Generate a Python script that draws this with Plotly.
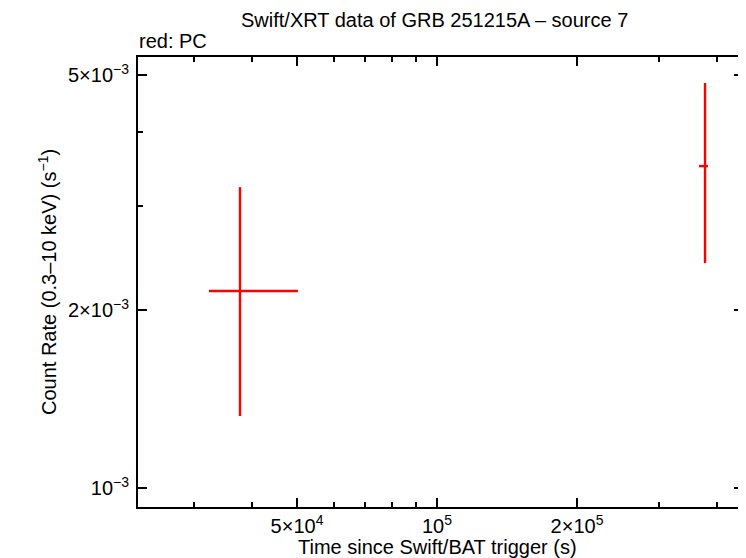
import plotly.graph_objects as go

# data (PC mode)
t = [37700, 377000]
t_lo = [32330, 365900]
t_hi = [50230, 382500]
rate = [2.155e-3, 3.505e-3]
rate_lo = [1.324e-3, 2.402e-3]
rate_hi = [3.23e-3, 4.845e-3]

x_tickvals = [5e4, 1e5, 2e5]
x_ticktext = ["5×10<sup>4</sup>", "10<sup>5</sup>", "2×10<sup>5</sup>"]
y_tickvals = [1e-3, 2e-3, 5e-3]
y_ticktext = ["10<sup>−3</sup>", "2×10<sup>−3</sup>", "5×10<sup>−3</sup>"]
x_minor = [3e4, 4e4, 6e4, 7e4, 8e4, 9e4, 3e5, 4e5]
y_minor = [3e-3, 4e-3]

fig = go.Figure()
fig.add_trace(go.Scatter(
    x=t, y=rate, mode="markers",
    marker=dict(size=0.1, color="red"),
    error_x=dict(type="data", symmetric=False,
                 array=[h - c for h, c in zip(t_hi, t)],
                 arrayminus=[c - l for l, c in zip(t_lo, t)],
                 color="red", thickness=2.4, width=0),
    error_y=dict(type="data", symmetric=False,
                 array=[h - c for h, c in zip(rate_hi, rate)],
                 arrayminus=[c - l for l, c in zip(rate_lo, rate)],
                 color="red", thickness=2.4, width=0),
    showlegend=False, hoverinfo="skip"))

font = "Liberation Sans, Arial, Helvetica, sans-serif"
axis_common = dict(type="log", showgrid=False, zeroline=False, showline=True,
                   linecolor="black", linewidth=2, mirror="allticks", automargin=False,
                   ticks="inside", ticklen=9, tickwidth=1.5, tickcolor="black",
                   tickfont=dict(family=font, size=20, color="black"))

fig.update_xaxes(**axis_common, range=[4.357, 5.658], ticklabelstandoff=0,
                 tickmode="array", tickvals=x_tickvals, ticktext=x_ticktext,
                 minor=dict(tickmode="array", tickvals=x_minor, ticks="inside",
                            ticklen=5, tickwidth=1.5, tickcolor="black"))
fig.update_yaxes(**axis_common, range=[-3.032, -2.2707], ticklabelstandoff=3,
                 tickmode="array", tickvals=y_tickvals, ticktext=y_ticktext,
                 minor=dict(tickmode="array", tickvals=y_minor, ticks="inside",
                            ticklen=5, tickwidth=1.5, tickcolor="black"))

# page offset (body margin 8px) compensated: figure coords = page coords - 8
L, T, W, H = 130, 49, 605, 450
tf = dict(family=font, size=20, color="black")
fig.update_layout(
    width=738, height=550,
    margin=dict(l=L, r=738 - L - W, t=T, b=550 - T - H),
    paper_bgcolor="white", plot_bgcolor="white",
    annotations=[
        dict(text="Swift/XRT data of GRB 251215A – source 7", xref="paper", yref="paper",
             x=(434 - 138) / W, y=1 + (57 - 20) / H, xanchor="center",
             yanchor="middle", showarrow=False, font=tf),
        dict(text="red: PC", xref="paper", yref="paper", x=-1 / W, y=1 + (57 - 41) / H,
             xanchor="left", yanchor="middle", showarrow=False, font=tf),
        dict(text="Time since Swift/BAT trigger (s)", xref="paper", yref="paper",
             x=(437 - 138) / W, y=-(547 - 507) / H, xanchor="center", yanchor="middle",
             showarrow=False, font=tf),
        dict(text="Count Rate (0.3–10 keV) (s<sup>−1</sup>)", xref="paper", yref="paper",
             x=-(138 - 47) / W, y=(507 - 282) / H, xanchor="center", yanchor="middle",
             textangle=-90, showarrow=False, font=tf),
    ],
)
fig.write_html("out.html")
